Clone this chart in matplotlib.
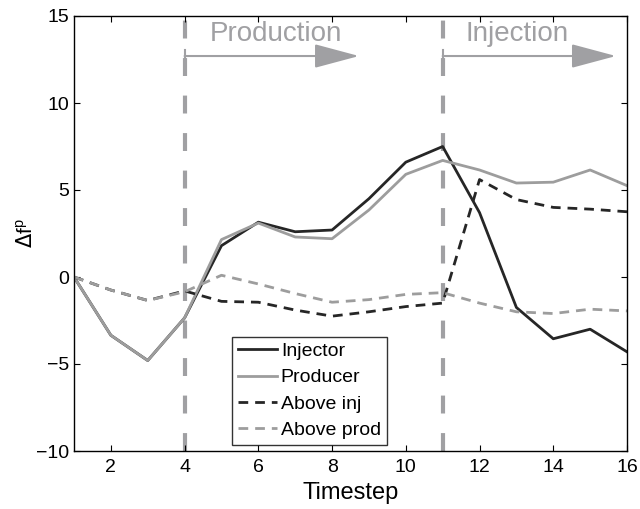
import numpy as np
import matplotlib.pyplot as plt

timestep = np.arange(1, 17)
injector = [0, -3.35, -4.8, -2.35, 1.8, 3.15, 2.6, 2.7, 4.5, 6.6, 7.5, 3.7, -1.75, -3.55, -3.0, -4.3]
producer = [0, -3.35, -4.8, -2.35, 2.15, 3.1, 2.3, 2.2, 3.85, 5.9, 6.7, 6.15, 5.4, 5.45, 6.15, 5.25]
above_inj = [0, -0.75, -1.35, -0.8, -1.4, -1.45, -1.9, -2.25, -2.0, -1.7, -1.5, 5.6, 4.45, 4.0, 3.9, 3.75]
above_prod = [0, -0.75, -1.35, -0.85, 0.1, -0.4, -0.95, -1.45, -1.3, -1.0, -0.9, -1.5, -2.0, -2.1, -1.85, -1.95]
phase_starts = [4, 11]
phase_ends = [8.73, 15.7]
phase_names = ["Production", "Injection"]
phase_text_x = [6.49, 13.03]

dark = "#262626"
grey = "#9d9d9d"
line_grey = "#a0a0a3"

plt.rcParams['font.family'] = ['Liberation Sans', 'DejaVu Sans']
fig = plt.figure(figsize=(6.4, 5.09), dpi=100)
ax = fig.add_axes([74 / 640, 58 / 509, 553 / 640, 435 / 509])

ax.plot(timestep, injector, color=dark, lw=2, label="Injector")
ax.plot(timestep, producer, color=grey, lw=2, label="Producer")
ax.plot(timestep, above_inj, color=dark, lw=2, ls=(0, (3.5, 2.5)), label="Above inj")
ax.plot(timestep, above_prod, color=grey, lw=2, ls=(0, (3.5, 2.5)), label="Above prod")

for xs, xe, xt, name in zip(phase_starts, phase_ends, phase_text_x, phase_names):
    ax.axvline(xs, color=line_grey, lw=3, ls=(0, (4.3, 4.7)), zorder=0)
    ax.plot([xs, xs], [12.0, 13.05], color=line_grey, lw=1.5)
    ax.annotate("", xy=(xe, 12.7), xytext=(xs, 12.7),
                arrowprops=dict(arrowstyle="-|>,head_length=2.8,head_width=0.75",
                                color=line_grey, lw=1.5, shrinkA=0, shrinkB=0,
                                mutation_scale=10))
    ax.text(xt, 13.58, name, color=line_grey, fontsize=20,
            ha="center", va="baseline")

ax.set_xlim(1, 16)
ax.set_ylim(-10, 15)
ax.set_xticks([2, 4, 6, 8, 10, 12, 14, 16])
ax.set_yticks([-10, -5, 0, 5, 10, 15])
ax.tick_params(direction="in", labelsize=14, top=True, right=True, length=4)
ax.tick_params(axis="x", pad=6)
for s in ax.spines.values():
    s.set_linewidth(1.0)
ax.set_xlabel("Timestep", fontsize=17, labelpad=4)
ax.set_ylabel(r"$\Delta$f$^\mathregular{p}$", fontsize=15, va="center")
ax.yaxis.set_label_coords(-0.087, 0.5)

leg = ax.legend(loc="lower left", bbox_to_anchor=(0.286, 0.014), fontsize=14,
                frameon=True, fancybox=False, edgecolor="black", handlelength=2.0,
                handletextpad=0.2, borderpad=0.3, labelspacing=0.45, borderaxespad=0)
leg.get_frame().set_linewidth(1.0)

fig.savefig("out.png", dpi=100)
